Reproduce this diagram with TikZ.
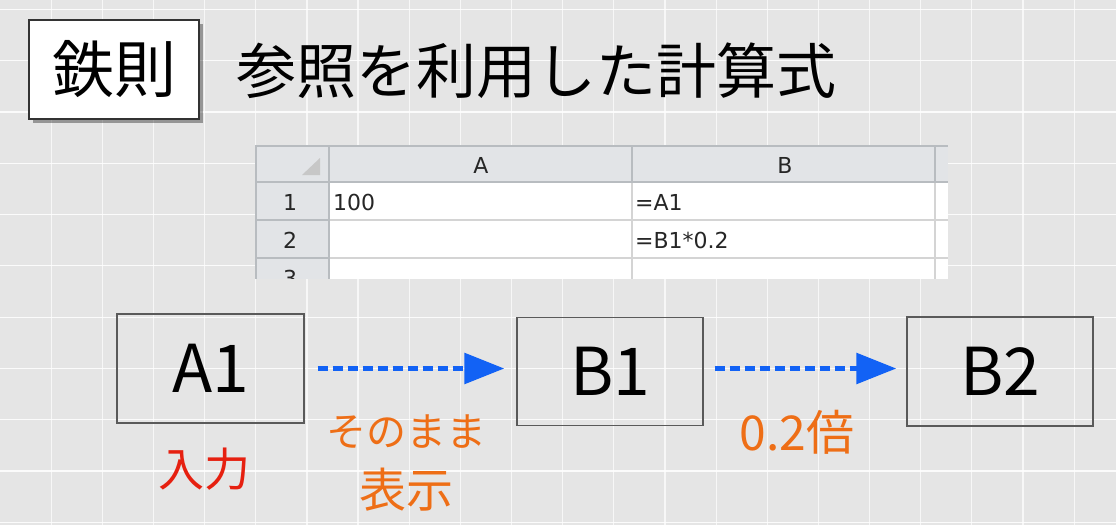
\documentclass[tikz,border=0pt]{standalone}
\usepackage{fontspec}
\setmainfont{Noto Sans CJK JP}
\newfontfamily\cellfont{DejaVu Sans}
\usetikzlibrary{arrows.meta}
\definecolor{bgc}{RGB}{229,229,229}
\definecolor{arrblue}{RGB}{18,98,245}
\definecolor{lblorange}{RGB}{238,110,22}
\definecolor{lblred}{RGB}{230,32,16}
\definecolor{hdrfill}{RGB}{226,228,231}
\definecolor{cellline}{RGB}{212,212,212}
\definecolor{hdrline}{RGB}{184,188,192}
\definecolor{boxline}{RGB}{90,90,90}
\newcommand{\fsz}[1]{\fontsize{#1pt}{#1pt}\selectfont}
\begin{document}
\begin{tikzpicture}[x=1pt,y=-1pt,
  gridline/.style={white,line width=1.2pt,opacity=0.7},
  cellbox/.style={draw=boxline,line width=1.2pt,inner sep=0pt,font=\fsz{66}},
  arr/.style={arrblue,line width=5.5pt,dash pattern=on 10pt off 5pt,-{Triangle[length=40pt,width=30pt]}},
  celltxt/.style={font=\cellfont\fsz{22},text=black!85,inner sep=0pt},
  lbl/.style={inner sep=0pt}]
\useasboundingbox (0,0) rectangle (1116,525);
\fill[bgc] (0,0) rectangle (1116,525);
% grid
\foreach \k in {1,...,21} \draw[gridline] (51.15*\k,0) -- (51.15*\k,525);
\foreach \k in {0,...,10} \draw[gridline,opacity=0.85] (0,9.3+51.3*\k) -- (1116,9.3+51.3*\k);
% title box
\fill[black,opacity=0.35] (33,24) rectangle (203,123);
\node[draw=black!80,fill=white,line width=1.2pt,minimum width=170pt,minimum height=99pt,inner sep=0pt,font=\fsz{62}] (tag) at (114,69.5) {鉄則};
\node[font=\fsz{60},inner sep=0pt] (title) at (536,71) {参照を利用した計算式};
% spreadsheet
\begin{scope}
\clip (255,145) rectangle (949,278);
\fill[white] (256,146) rectangle (948,300);
\fill[hdrfill] (256,146) rectangle (948,182);
\fill[hdrfill] (256,182) rectangle (329,300);
\fill[black!22] (320,158) -- (320,175) -- (302,175) -- cycle;
\foreach \yy in {220,258} \draw[cellline,line width=1.2pt] (329,\yy) -- (948,\yy);
\foreach \yy in {220,258} \draw[hdrline,line width=1.2pt] (256,\yy) -- (329,\yy);
\draw[cellline,line width=1.2pt] (632,182) -- (632,300);
\draw[cellline,line width=1.2pt] (935,182) -- (935,300);
\draw[hdrline,line width=1.2pt] (632,146) -- (632,182);
\draw[hdrline,line width=1.2pt] (935,146) -- (935,182);
\draw[hdrline,line width=1.4pt] (256,182) -- (948,182);
\draw[hdrline,line width=1.4pt] (329,146) -- (329,300);
\draw[hdrline,line width=1.4pt] (256,300) -- (256,146) -- (948,146);
\node[celltxt] (hA) at (481,165) {A};
\node[celltxt] (hB) at (785,165) {B};
\node[celltxt] (r1) at (290,202) {1};
\node[celltxt] (r2) at (290,240) {2};
\node[celltxt] (r3) at (290,278) {3};
\node[celltxt,anchor=west] (a1v) at (333,202) {100};
\node[celltxt,anchor=west] (b1v) at (635,202) {=A1};
\node[celltxt,anchor=west] (b2v) at (635,240) {=B1*0.2};
\end{scope}
% flow boxes
\node[cellbox,minimum width=187pt,minimum height=109pt] (A1) at (210.5,368.5) {A1};
\node[cellbox,minimum width=186pt,minimum height=108pt] (B1) at (610,371.5) {B1};
\node[cellbox,minimum width=186pt,minimum height=109pt] (B2) at (1000,371.5) {B2};
% arrows
\draw[arr,shorten <=13pt,shorten >=12pt] (A1.east) -- (B1.west |- A1.east);
\draw[arr,shorten <=11pt,shorten >=10pt] ([yshift=3pt]B1.east) -- ([yshift=3pt]B2.west);
% labels
\node[lbl,font=\fsz{46},text=lblred] (in) at (204,469) {入力};
\node[lbl,text=lblorange,align=center] (as) at (406,463) {{\fsz{40}そのまま}\\[19pt]{\fsz{47}表示}};
\node[lbl,font=\fsz{48},text=lblorange] (x02) at (797,432) {0.2倍};
\end{tikzpicture}
\end{document}
